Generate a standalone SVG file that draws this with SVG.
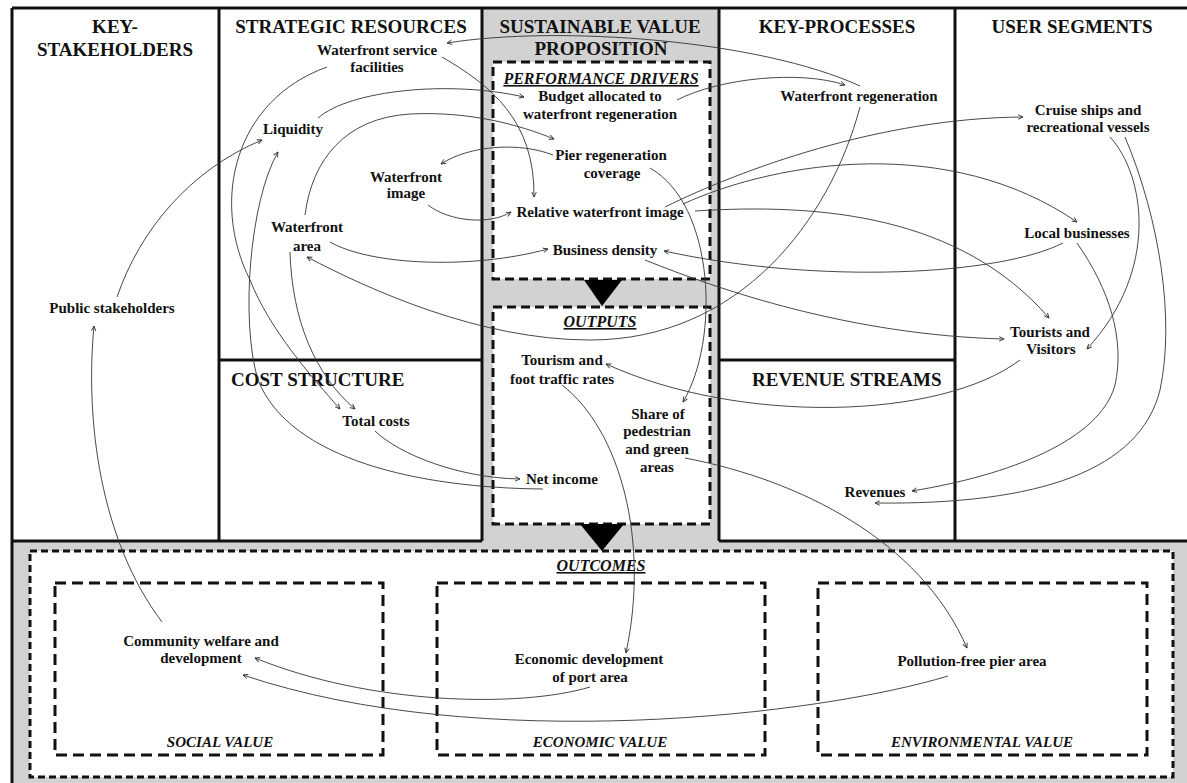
<svg xmlns="http://www.w3.org/2000/svg" width="1187" height="783" viewBox="0 0 1187 783">
  <defs>
    <style>
      .rule{fill:none;stroke:#111;stroke-width:3}
      .panel{fill:#d2d2d2;stroke:none}
      .box-in{fill:#fff;stroke:#111;stroke-width:3;stroke-dasharray:9 5}
      .box-out{fill:#fff;stroke:#111;stroke-width:3;stroke-dasharray:7 4}
      .box-val{fill:none;stroke:#111;stroke-width:3;stroke-dasharray:11 6}
      .hdr{font-family:"Liberation Serif","Times New Roman",serif;font-weight:bold;font-size:19px;fill:#111;text-anchor:middle}
      .sub{font-family:"Liberation Serif","Times New Roman",serif;font-weight:bold;font-style:italic;font-size:16px;fill:#111;text-anchor:middle;text-decoration:underline}
      .val{font-family:"Liberation Serif","Times New Roman",serif;font-weight:bold;font-style:italic;font-size:15px;fill:#111;text-anchor:middle}
      .lbl{font-family:"Liberation Serif","Times New Roman",serif;font-weight:bold;font-size:15px;fill:#111;text-anchor:middle}
      .conn path{fill:none;stroke:#333;stroke-width:0.9;marker-end:url(#ah)}
    </style>
    <marker id="ah" viewBox="0 0 8 8" refX="7.5" refY="4" markerWidth="6" markerHeight="6" orient="auto" markerUnits="userSpaceOnUse">
      <path d="M1,1 L7.5,4 L1,7" fill="none" stroke="#333" stroke-width="1.2"/>
    </marker>
  </defs>

  <!-- canvas and shaded areas -->
  <rect x="0" y="0" width="1187" height="783" fill="#fff"/>
  <rect class="panel" x="482" y="8" width="237" height="533"/>
  <rect class="panel" x="12" y="541" width="1175" height="242"/>

  <!-- canvas grid -->
  <g id="grid">
    <path class="rule" d="M12,8 H1187 M12,8 V783 M219,8 V541 M482,8 V541 M719,8 V541 M955,8 V541 M219,360 H482 M719,360 H955 M12,541 H482 M719,541 H1187"/>
  </g>

  <!-- dashed containers -->
  <g id="containers">
    <rect class="box-in" x="493" y="62" width="217" height="217"/>
    <rect class="box-in" x="493" y="307" width="217" height="217"/>
    <rect class="box-out" x="30" y="551" width="1143" height="226"/>
    <rect class="box-val" x="55" y="583" width="328" height="172"/>
    <rect class="box-val" x="437" y="583" width="328" height="172"/>
    <rect class="box-val" x="818" y="583" width="329" height="172"/>
    <polygon points="584,280 622,280 602,306" fill="#000"/>
    <polygon points="580,524 624,524 602,551" fill="#000"/>
  </g>

  <!-- section titles -->
  <g id="titles">
    <text class="hdr" x="115" y="33">KEY-</text>
    <text class="hdr" x="115" y="56">STAKEHOLDERS</text>
    <text class="hdr" x="351" y="33">STRATEGIC RESOURCES</text>
    <text class="hdr" x="600" y="33">SUSTAINABLE VALUE</text>
    <text class="hdr" x="601" y="55">PROPOSITION</text>
    <text class="hdr" x="837" y="33">KEY-PROCESSES</text>
    <text class="hdr" x="1072" y="33">USER SEGMENTS</text>
    <text class="hdr" x="231" y="386" style="text-anchor:start">COST STRUCTURE</text>
    <text class="hdr" x="752" y="386" style="text-anchor:start">REVENUE STREAMS</text>
    <text class="sub" x="601" y="84">PERFORMANCE DRIVERS</text>
    <text class="sub" x="600" y="327">OUTPUTS</text>
    <text class="sub" x="601" y="571">OUTCOMES</text>
    <text class="val" x="220" y="747">SOCIAL VALUE</text>
    <text class="val" x="600" y="747">ECONOMIC VALUE</text>
    <text class="val" x="982" y="747">ENVIRONMENTAL VALUE</text>
  </g>

  <!-- causal links -->
  <g id="connectors" class="conn">
    <path d="M860,86 C760,40 560,25 447,43"/>
    <path d="M677,100 C720,78 800,70 845,85"/>
    <path d="M318,118 C350,90 450,80 524,97"/>
    <path d="M442,57 C490,85 535,120 534,197"/>
    <path d="M305,215 C312,160 345,118 410,114 C470,111 520,125 554,139"/>
    <path d="M553,155 C520,142 470,145 441,164"/>
    <path d="M428,205 C450,222 490,225 511,212"/>
    <path d="M330,242 C370,265 470,270 548,249"/>
    <path d="M860,107 C830,220 740,340 590,340 C480,340 370,290 307,257"/>
    <path d="M1063,243 C1000,275 820,285 664,251"/>
    <path d="M645,260 C720,290 850,335 1004,339"/>
    <path d="M695,211 C820,203 960,215 1049,318"/>
    <path d="M665,207 C740,170 880,118 1023,117"/>
    <path d="M683,204 C780,160 950,135 1077,222"/>
    <path d="M1110,137 C1145,175 1160,270 1087,349"/>
    <path d="M1125,137 C1160,220 1175,320 1160,390 C1140,470 1040,505 875,503"/>
    <path d="M1077,243 C1110,290 1125,340 1115,385 C1100,440 1010,475 912,491"/>
    <path d="M1020,360 C940,420 740,425 606,364"/>
    <path d="M650,168 C715,205 720,340 683,402"/>
    <path d="M685,458 C800,480 920,540 967,648"/>
    <path d="M562,385 C620,430 650,540 626,653"/>
    <path d="M375,431 C400,455 460,478 520,479"/>
    <path d="M543,489 C420,488 290,460 258,380 C240,320 250,200 278,152"/>
    <path d="M327,67 C235,100 210,200 250,280 C270,330 310,375 340,409"/>
    <path d="M290,252 C292,320 315,375 355,409"/>
    <path d="M117,297 C140,230 190,170 262,140"/>
    <path d="M162,622 C100,540 85,420 94,326"/>
    <path d="M590,687 C520,708 370,705 255,658"/>
    <path d="M948,676 C820,715 480,755 243,675"/>
  </g>

  <!-- nodes -->
  <g id="public-stakeholders"><text class="lbl" x="112" y="313">Public stakeholders</text></g>
  <g id="waterfront-service-facilities"><text class="lbl" x="377" y="55">Waterfront service</text><text class="lbl" x="377" y="72">facilities</text></g>
  <g id="liquidity"><text class="lbl" x="293" y="134">Liquidity</text></g>
  <g id="waterfront-image"><text class="lbl" x="406" y="182">Waterfront</text><text class="lbl" x="406" y="198">image</text></g>
  <g id="waterfront-area"><text class="lbl" x="307" y="232">Waterfront</text><text class="lbl" x="307" y="251">area</text></g>
  <g id="total-costs"><text class="lbl" x="376" y="426">Total costs</text></g>
  <g id="budget"><text class="lbl" x="600" y="101">Budget allocated to</text><text class="lbl" x="600" y="119">waterfront regeneration</text></g>
  <g id="pier-coverage"><text class="lbl" x="611" y="160">Pier regeneration</text><text class="lbl" x="612" y="178">coverage</text></g>
  <g id="relative-image"><text class="lbl" x="600" y="217">Relative waterfront image</text></g>
  <g id="business-density"><text class="lbl" x="605" y="255">Business density</text></g>
  <g id="tourism-rates"><text class="lbl" x="562" y="365">Tourism and</text><text class="lbl" x="562" y="384">foot traffic rates</text></g>
  <g id="pedestrian-share"><text class="lbl" x="658" y="419">Share of</text><text class="lbl" x="657" y="436">pedestrian</text><text class="lbl" x="657" y="454">and green</text><text class="lbl" x="657" y="472">areas</text></g>
  <g id="net-income"><text class="lbl" x="562" y="484">Net income</text></g>
  <g id="waterfront-regeneration"><text class="lbl" x="859" y="101">Waterfront regeneration</text></g>
  <g id="revenues"><text class="lbl" x="875" y="497">Revenues</text></g>
  <g id="cruise-ships"><text class="lbl" x="1088" y="115">Cruise ships and</text><text class="lbl" x="1088" y="132">recreational vessels</text></g>
  <g id="local-businesses"><text class="lbl" x="1077" y="238">Local businesses</text></g>
  <g id="tourists"><text class="lbl" x="1050" y="337">Tourists and</text><text class="lbl" x="1051" y="354">Visitors</text></g>
  <g id="community-welfare"><text class="lbl" x="201" y="646">Community welfare and</text><text class="lbl" x="201" y="663">development</text></g>
  <g id="economic-development"><text class="lbl" x="589" y="664">Economic development</text><text class="lbl" x="590" y="682">of port area</text></g>
  <g id="pollution-free"><text class="lbl" x="972" y="666">Pollution-free pier area</text></g>
</svg>
